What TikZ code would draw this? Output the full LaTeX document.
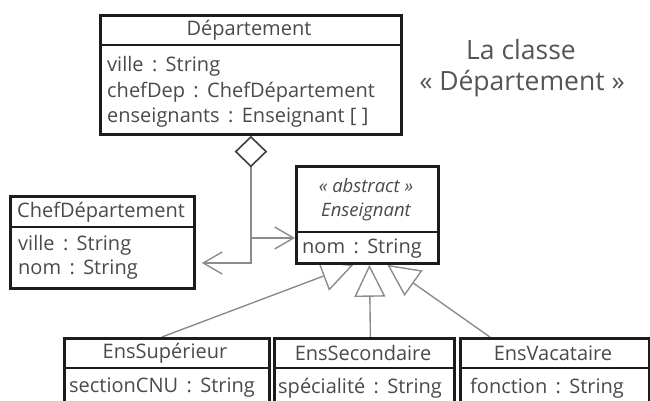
\documentclass[tikz,border=0pt]{standalone}
\usepackage{fontspec}
\setmainfont{Open Sans}
\usetikzlibrary{arrows.meta,shapes.geometric,calc}
\pgfdeclarelayer{back}
\pgfsetlayers{back,main}
\definecolor{boxc}{HTML}{1C1C1C}
\definecolor{txtc}{HTML}{4A4A4A}
\definecolor{linec}{HTML}{8C8C8C}
\definecolor{titlec}{HTML}{555555}
% attribute separator with the wide spacing used in the class boxes
\newcommand{\tsep}{\hspace{0.42em}:\hspace{0.42em}}
\begin{document}
\begin{tikzpicture}[x=1pt,y=-1pt,
  classbox/.style={draw=boxc, line width=2.8pt, fill=white, inner sep=0pt, anchor=north west},
  divider/.style={draw=boxc, line width=2.2pt},
  txt/.style={text=txtc, font=\fontsize{20}{22}\selectfont, inner sep=0pt},
  attr/.style={txt, anchor=west},
  head/.style={txt},
  stereo/.style={txt, font=\fontsize{18.5}{22}\selectfont\itshape},
  link/.style={draw=linec, line width=1.4pt},
  nav/.style={link, -{Straight Barb[length=19pt,width=22pt,line width=1.4pt]}},
  gen/.style={link, -{Triangle[open,length=32pt,width=31pt,line width=1.4pt]}},
  title/.style={text=titlec, font=\fontsize{26.5}{28}\selectfont, inner sep=0pt},
]
\useasboundingbox (0,0) rectangle (650,400);
\clip (0,0) rectangle (650,400);

% class Departement
\node[classbox, minimum width=301pt, minimum height=119pt] (dep) at (99,14) {};
\draw[divider] (99,45) -- (400,45);
\node[head] (depname) at (249,30) {Département};
\node[attr] (depa1) at (107,66) {ville\tsep String};
\node[attr] (depa2) at (107,92) {chefDep\tsep ChefDépartement};
\node[attr] (depa3) at (107,118) {enseignants\tsep Enseignant [ ]};

% caption
\node[title] (cap1) at (521,50) {La classe};
\node[title] (cap2) at (522,84) {« Département »};

% class ChefDepartement
\node[classbox, minimum width=184pt, minimum height=92pt] (chef) at (9,195) {};
\draw[divider] (9,227) -- (193,227);
\node[head] (chefname) at (101,212) {ChefDépartement};
\node[attr] (chefa1) at (18,245) {ville\tsep String};
\node[attr] (chefa2) at (18,270) {nom\tsep String};

% abstract class Enseignant
\node[classbox, minimum width=142pt, minimum height=97pt] (ens) at (295,165) {};
\draw[divider] (295,232) -- (437,232);
\node[stereo] (ensst) at (366,186) {« abstract »};
\node[stereo] (ensname) at (366,212) {Enseignant};
\node[attr] (ensa1) at (302,249) {nom\tsep String};

% subclasses
\node[classbox, minimum width=205pt, minimum height=80pt] (sup) at (63,337) {};
\draw[divider] (63,368) -- (268,368);
\node[head] (supname) at (165,353) {EnsSupérieur};
\node[attr] (supa1) at (69,388) {sectionCNU\tsep String};

\node[classbox, minimum width=180pt, minimum height=80pt] (sec) at (273,337) {};
\draw[divider] (273,368) -- (453,368);
\node[head] (secname) at (363,353) {EnsSecondaire};
\node[attr] (seca1) at (278,388) {spécialité\tsep String};

\node[classbox, minimum width=189pt, minimum height=80pt] (vac) at (459,337) {};
\draw[divider] (459,368) -- (648,368);
\node[head] (vacname) at (553,353) {EnsVacataire};
\node[attr] (vaca1) at (470,388) {fonction\tsep String};

% aggregation diamond under Departement
\node[diamond, draw=boxc!70!linec, line width=1.6pt, fill=white, inner sep=0pt,
      minimum width=31pt, minimum height=30pt, anchor=north] (agg) at (dep.south) {};

% connectors, drawn beneath the boxes
\begin{pgfonlayer}{back}
  \coordinate (bend) at (agg.south |- 0,263);
  \coordinate (fork) at (agg.south |- 0,238);
  \draw[nav] (agg.south) -- (bend) -- ($(chef.north east |- bend)+(6,0)$);
  \draw[nav] (fork) -- (fork -| ens.west);
  \draw[gen] ([xshift=-5pt]sup.north) -- ([xshift=-14pt]ens.south);
  \draw[gen] ([xshift=6pt]sec.north) -- ([xshift=2pt]ens.south);
  \draw[gen] ([xshift=-65pt]vac.north) -- ([xshift=20pt]ens.south);
\end{pgfonlayer}
\end{tikzpicture}
\end{document}
